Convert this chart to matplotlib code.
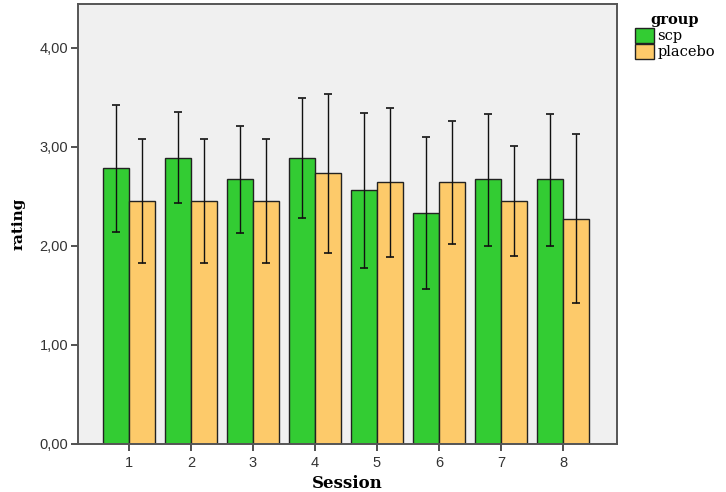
import matplotlib
matplotlib.use('Agg')
import matplotlib.pyplot as plt
import numpy as np
from matplotlib.patches import Patch
from matplotlib.ticker import FuncFormatter

# Data
sessions = [1, 2, 3, 4, 5, 6, 7, 8]
scp_mean = [2.78, 2.89, 2.67, 2.89, 2.56, 2.33, 2.67, 2.67]
scp_upper = [3.42, 3.35, 3.21, 3.49, 3.34, 3.10, 3.33, 3.33]
scp_lower = [2.14, 2.43, 2.13, 2.28, 1.78, 1.56, 2.00, 2.00]
placebo_mean = [2.45, 2.45, 2.45, 2.73, 2.64, 2.64, 2.45, 2.27]
placebo_upper = [3.08, 3.08, 3.08, 3.53, 3.39, 3.26, 3.01, 3.13]
placebo_lower = [1.83, 1.83, 1.83, 1.93, 1.89, 2.02, 1.90, 1.42]

green = '#33CC33'
orange = '#FDCA6A'
width = 0.42

fig = plt.figure(figsize=(7.26, 4.92), dpi=100)
ax = fig.add_axes([0.1074, 0.0976, 0.7424, 0.8943])
ax.set_facecolor('#F0F0F0')

x = np.array(sessions)
scp_err = [np.array(scp_mean) - np.array(scp_lower), np.array(scp_upper) - np.array(scp_mean)]
pla_err = [np.array(placebo_mean) - np.array(placebo_lower), np.array(placebo_upper) - np.array(placebo_mean)]

ax.bar(x - width / 2, scp_mean, width, color=green, edgecolor='#222222', linewidth=1.0, zorder=2)
ax.bar(x + width / 2, placebo_mean, width, color=orange, edgecolor='#222222', linewidth=1.0, zorder=2)
ax.errorbar(x - width / 2, scp_mean, yerr=scp_err, fmt='none', ecolor='#111111',
            elinewidth=1.0, capsize=3, capthick=1.2, zorder=3)
ax.errorbar(x + width / 2, placebo_mean, yerr=pla_err, fmt='none', ecolor='#111111',
            elinewidth=1.0, capsize=3, capthick=1.2, zorder=3)

ax.set_xlim(0.18, 8.87)
ax.set_ylim(0, 4.44)
ax.set_xticks(sessions)
ax.set_xticklabels([str(s) for s in sessions], fontsize=10.5, family='Liberation Sans', color='#333333')
ax.set_yticks([0, 1, 2, 3, 4])
ax.yaxis.set_major_formatter(FuncFormatter(lambda v, p: f'{v:.2f}'.replace('.', ',')))
for lbl in ax.get_yticklabels():
    lbl.set_fontsize(10.5)
    lbl.set_family('Liberation Sans')
    lbl.set_color('#333333')
ax.tick_params(direction='out', length=5, width=1.2, color='#333333')
ax.tick_params(axis='x', pad=4)
ax.tick_params(axis='y', pad=2)
for sp in ax.spines.values():
    sp.set_color('#555555')
    sp.set_linewidth(1.4)

ax.set_xlabel('Session', fontsize=12, fontweight='bold', family='DejaVu Serif', labelpad=3)
ax.set_ylabel('rating', fontsize=11, fontweight='bold', family='DejaVu Serif', labelpad=10)

handles = [Patch(facecolor=green, edgecolor='#222222', label='scp'),
           Patch(facecolor=orange, edgecolor='#222222', label='placebo')]
leg = fig.legend(handles=handles, title='group', loc='upper left', bbox_to_anchor=(0.866, 0.985),
                 frameon=False, handlelength=1.3, handleheight=1.2, handletextpad=0.25,
                 borderaxespad=0, labelspacing=0.05,
                 prop={'family': 'DejaVu Serif', 'size': 10.5})
leg.get_title().set_fontweight('bold')
leg.get_title().set_family('DejaVu Serif')
leg.get_title().set_fontsize(10.5)

fig.savefig('out.png', dpi=100)
